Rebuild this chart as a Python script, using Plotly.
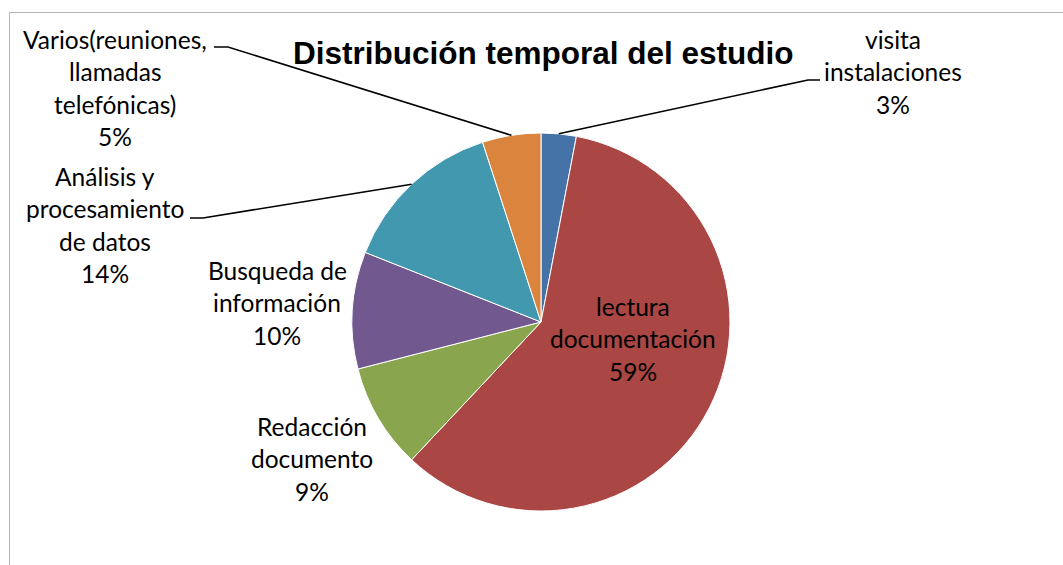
import math
import plotly.graph_objects as go

W, H = 1063, 565

# ---- data ----
categories = [
    "visita instalaciones",
    "lectura documentación",
    "Redacción documento",
    "Busqueda de información",
    "Análisis y procesamiento de datos",
    "Varios(reuniones, llamadas telefónicas)",
]
values = [3, 59, 9, 10, 14, 5]
label_lines = [
    ["visita", "instalaciones"],
    ["lectura", "documentación"],
    ["Redacción", "documento"],
    ["Busqueda de", "información"],
    ["Análisis y", "procesamiento", "de datos"],
    ["Varios(reuniones,", "llamadas", "telefónicas)"],
]
title_text = "Distribución temporal del estudio"

# ---- style / layout ----
colors = ["#4572A7", "#AA4643", "#89A54E", "#71588F", "#4198AF", "#DB843D"]
CX, CY, R = 541, 322, 189          # pie centre/radius in pixels
# label block: (centre x, first-line centre y) in pixels, leader elbow points
label_pos = [(893, 39.5), (633, 306.5), (312, 426.5), (277, 270.5), (105, 176.5), (115, 39.5)]
leader_elbows = [
    [(808, 80), (820, 80)],
    None,
    None,
    None,
    [(203, 218), (190, 218)],
    [(228, 47), (214, 47)],
]
LINE_GAP = 32.4
FONT = "Lato"
FSIZE = 24.5


def px(x):
    return x / W


def py(y):
    return 1 - y / H


fig = go.Figure(
    go.Pie(
        labels=categories,
        values=values,
        sort=False,
        direction="clockwise",
        rotation=0,
        marker=dict(colors=colors, line=dict(color="white", width=1)),
        textinfo="none",
        hoverinfo="label+percent",
        showlegend=False,
        domain=dict(x=[px(CX - R), px(CX + R)], y=[py(CY + R), py(CY - R)]),
    )
)

total = sum(values)
annotations = []
shapes = []
cum = 0
for i, v in enumerate(values):
    pct = round(100 * v / total)
    lines = label_lines[i] + [f"{pct}%"]
    lx, ly = label_pos[i]
    for k, t in enumerate(lines):
        annotations.append(
            dict(
                x=px(lx), y=py(ly + k * LINE_GAP), xref="paper", yref="paper",
                text=t, showarrow=False, xanchor="center", yanchor="middle",
                font=dict(family=FONT, size=FSIZE, color="black"),
            )
        )
    mid = (cum + v / 2) / total * 2 * math.pi
    cum += v
    if leader_elbows[i]:
        ax = CX + R * math.sin(mid)
        ay = CY - R * math.cos(mid)
        pts = [(ax, ay)] + leader_elbows[i]
        path = "M " + " L ".join(f"{px(x)},{py(y)}" for x, y in pts)
        shapes.append(dict(type="path", xref="paper", yref="paper", path=path,
                           line=dict(color="black", width=1.6)))

# chart-area border
shapes.append(dict(type="rect", xref="paper", yref="paper",
                   x0=px(9.5), x1=px(W + 5), y0=py(H + 5), y1=py(12.5),
                   line=dict(color="#b4b4b4", width=1)))

annotations.append(
    dict(x=px(543), y=py(52.5), xref="paper", yref="paper", text=f"<b>{title_text}</b>",
         showarrow=False, xanchor="center", yanchor="middle",
         font=dict(family="Liberation Sans, Arial", size=31.5, color="black"))
)

fig.update_layout(
    width=W, height=H,
    margin=dict(l=0, r=0, t=0, b=0),
    paper_bgcolor="white", plot_bgcolor="white",
    annotations=annotations, shapes=shapes,
)
fig.write_html("out.html")
